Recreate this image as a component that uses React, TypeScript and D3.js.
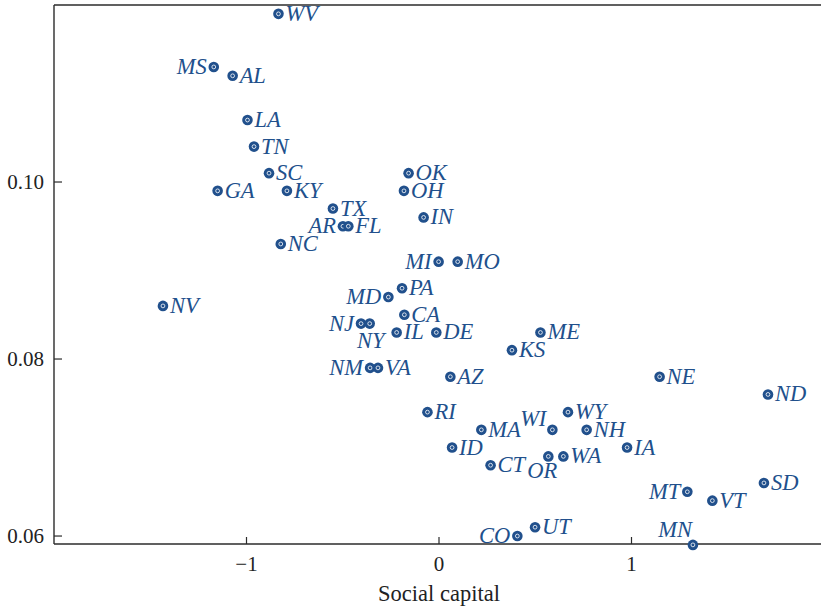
import { useEffect } from "react";
import * as d3 from "d3";

// State abbreviations and their values (x: social capital index, y: rate)
const STATES = [
  "WV", "MS", "AL", "LA", "TN", "SC", "GA", "KY", "TX", "AR", "FL", "NC",
  "OK", "OH", "IN", "MI", "MO", "NV", "PA", "MD", "CA", "NJ", "NY", "IL",
  "DE", "ME", "KS", "NM", "VA", "AZ", "NE", "ND", "RI", "WY", "MA", "WI",
  "NH", "IA", "ID", "OR", "WA", "CT", "MT", "VT", "SD", "UT", "CO", "MN",
];
const SOCIAL_CAPITAL = [
  -0.834, -1.17, -1.072, -0.995, -0.961, -0.883, -1.15, -0.79, -0.551, -0.499, -0.471, -0.822,
  -0.158, -0.182, -0.08, -0.002, 0.097, -1.434, -0.192, -0.263, -0.18, -0.405, -0.36, -0.22,
  -0.014, 0.527, 0.379, -0.358, -0.317, 0.059, 1.146, 1.709, -0.06, 0.67, 0.22, 0.589,
  0.767, 0.977, 0.068, 0.568, 0.646, 0.268, 1.29, 1.42, 1.688, 0.499, 0.407, 1.319,
];
const RATE = [
  0.119, 0.113, 0.112, 0.107, 0.104, 0.101, 0.099, 0.099, 0.097, 0.095, 0.095, 0.093,
  0.101, 0.099, 0.096, 0.091, 0.091, 0.086, 0.088, 0.087, 0.085, 0.084, 0.084, 0.083,
  0.083, 0.083, 0.081, 0.079, 0.079, 0.078, 0.078, 0.076, 0.074, 0.074, 0.072, 0.072,
  0.072, 0.07, 0.07, 0.069, 0.069, 0.068, 0.065, 0.064, 0.066, 0.061, 0.06, 0.059,
];
const X_TICKS = [-1, 0, 1];
const Y_TICKS = [0.06, 0.08, 0.1];
const X_LABEL = "Social capital";

// label placement: where the text sits relative to its dot
type Place = { dx: number; dy: number; anchor: "start" | "end" | "middle" };
const RIGHT: Place = { dx: 7, dy: 7, anchor: "start" };
const LEFT: Place = { dx: -7, dy: 7, anchor: "end" };
const PLACE: Record<string, Place> = {
  MS: LEFT, AR: LEFT, MI: LEFT, MD: LEFT, NJ: LEFT, NM: LEFT, MT: LEFT, CO: LEFT,
  NY: { dx: 1, dy: 24, anchor: "middle" },
  WI: { dx: -6, dy: -4, anchor: "end" },
  OR: { dx: -6, dy: 22, anchor: "middle" },
  MN: { dx: -1, dy: -8, anchor: "end" },
};

const W = 821;
const H = 612;
const LEFT_X = 54;
const TOP_Y = 5;
const BOTTOM_Y = 544;
const BLUE = "#21508c";
const AXIS = "#2b2b2b";
const SERIF = "'Liberation Serif','Times New Roman',serif";

export default function App() {
  useEffect(() => {
    document.body.style.margin = "0";
  }, []);

  const x = d3.scaleLinear().domain([-2, 2]).range([LEFT_X, LEFT_X + 770]);
  const y = d3.scaleLinear().domain([0.0591, 0.12]).range([BOTTOM_Y, TOP_Y]);
  const fmtY = d3.format(".2f");
  const fmtX = (v: number) => (v < 0 ? `\u2212${Math.abs(v)}` : `${v}`);

  return (
    <svg width={W} height={H} style={{ display: "block" }}>
      <rect width={W} height={H} fill="white" />

      {/* frame: top, left, bottom */}
      <line x1={LEFT_X} x2={W} y1={TOP_Y} y2={TOP_Y} stroke={AXIS} strokeWidth={1.4} />
      <line x1={LEFT_X} x2={LEFT_X} y1={TOP_Y} y2={BOTTOM_Y} stroke={AXIS} strokeWidth={1.4} />
      <line x1={LEFT_X} x2={W} y1={BOTTOM_Y} y2={BOTTOM_Y} stroke={AXIS} strokeWidth={1.4} />

      {/* y ticks */}
      {Y_TICKS.map((t) => (
        <g key={`y${t}`}>
          <line x1={LEFT_X} x2={LEFT_X + 8} y1={y(t)} y2={y(t)} stroke={AXIS} strokeWidth={1.2} />
          <text x={LEFT_X - 10} y={y(t)} dy="0.35em" textAnchor="end"
            fontSize={21} fontFamily={SERIF} fill="#222">
            {fmtY(t)}
          </text>
        </g>
      ))}

      {/* x ticks */}
      {X_TICKS.map((t) => (
        <g key={`x${t}`}>
          <line x1={x(t)} x2={x(t)} y1={BOTTOM_Y} y2={BOTTOM_Y - 7} stroke={AXIS} strokeWidth={1.2} />
          <text x={x(t)} y={571} textAnchor="middle"
            fontSize={21} fontFamily={SERIF} fill="#222">
            {fmtX(t)}
          </text>
        </g>
      ))}

      <text x={x(0)} y={601} textAnchor="middle" fontSize={22.5} fontFamily={SERIF} fill="#222">
        {X_LABEL}
      </text>

      {/* points */}
      {STATES.map((s, i) => {
        const cx = x(SOCIAL_CAPITAL[i]);
        const cy = y(RATE[i]);
        const p = PLACE[s] ?? RIGHT;
        return (
          <g key={s}>
            <circle cx={cx} cy={cy} r={5.3} fill={BLUE} />
            <circle cx={cx} cy={cy} r={1.9} fill="none" stroke="white" strokeWidth={0.8} />
            <text x={cx + p.dx} y={cy + p.dy} textAnchor={p.anchor}
              fontSize={22.5} fontStyle="italic" fontFamily={SERIF} fill={BLUE}>
              {s}
            </text>
          </g>
        );
      })}
    </svg>
  );
}
